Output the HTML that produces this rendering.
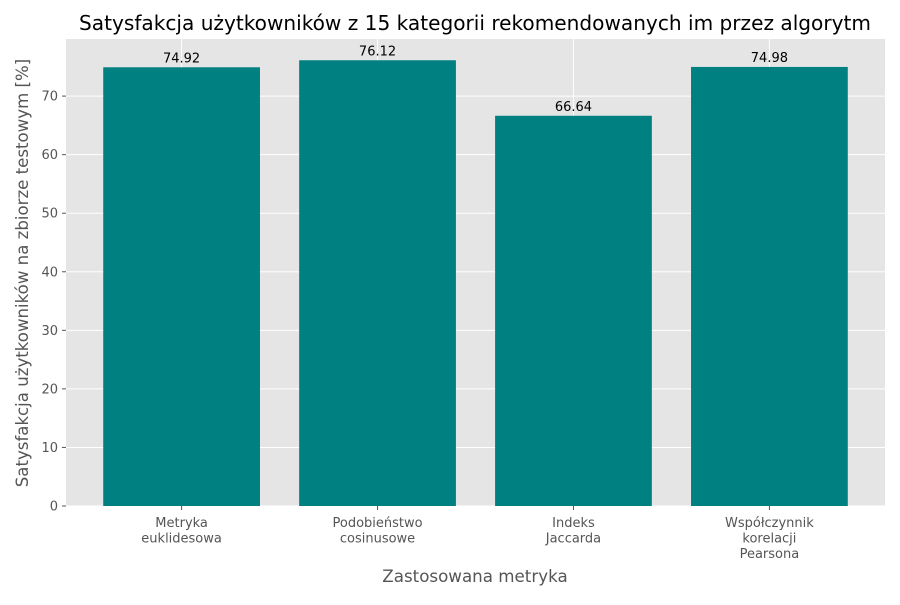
<!DOCTYPE html>
<html><head><meta charset="utf-8"><style>
body{margin:0;background:#fff;font-family:"Liberation Sans","DejaVu Sans",sans-serif;}
svg text{font-family:"DejaVu Sans","Liberation Sans",sans-serif;}
</style></head><body>
<svg id="chart" width="900" height="600" xmlns="http://www.w3.org/2000/svg">
<rect width="900" height="600" fill="#fff"/>
<text x="475" y="30" text-anchor="middle" font-size="20.1" fill="#000">Satysfakcja użytkowników z 15 kategorii rekomendowanych im przez algorytm</text>
<rect x="66" y="39" width="819" height="467" fill="#e5e5e5"/>
<g id="grid"></g><g id="bars"></g><g id="axes"></g>
<text x="475" y="582" text-anchor="middle" font-size="16.7" fill="#555">Zastosowana metryka</text>
<text transform="translate(28,273) rotate(-90)" text-anchor="middle" font-size="16.6" fill="#555">Satysfakcja użytkowników na zbiorze testowym [%]</text>
</svg>
<script>
const categories=[["Metryka","euklidesowa"],["Podobieństwo","cosinusowe"],["Indeks","Jaccarda"],["Współczynnik","korelacji","Pearsona"]];
const values=[74.92,76.12,66.64,74.98];
const yTicks=[0,10,20,30,40,50,60,70];
const L=66,R=885,T=39,B=506;
const yMax=79.75, xMin=-0.59, xMax=3.59;
const ys=v=>B-(v/yMax)*(B-T);
const xs=i=>L+(i-xMin)/(xMax-xMin)*(R-L);
const NS="http://www.w3.org/2000/svg";
function mk(tag,attrs,parent,txt){const e=document.createElementNS(NS,tag);for(const k in attrs)e.setAttribute(k,attrs[k]);if(txt!==undefined)e.textContent=txt;parent.appendChild(e);return e;}
const grid=document.getElementById('grid'),bars=document.getElementById('bars'),axes=document.getElementById('axes');
yTicks.forEach(t=>{
 const y=ys(t);
 const g=mk('line',{x1:L,x2:R,y1:y,y2:y,stroke:'#fff','stroke-width':1},grid);
 
 
 mk('line',{x1:L-4,x2:L,y1:y,y2:y,stroke:'#555'},axes);
 const lb=mk('text',{x:L-8,y:y+4.5,'text-anchor':'end','font-size':13,fill:'#555'},axes,String(t));
 
 
});
categories.forEach((c,i)=>{
 const x=xs(i);
 const g=mk('line',{x1:x,x2:x,y1:T,y2:B,stroke:'#fff','stroke-width':1},grid);
 
 
});
categories.forEach((c,i)=>{
 const x=xs(i),w=xs(0.4)-xs(-0.4),y=ys(values[i]);
 const r=mk('rect',{x:x-w/2,y:y,width:w,height:B-y,fill:'#008080'},bars);
 
 
 const v=mk('text',{x:x,y:y-5,'text-anchor':'middle','font-size':13,fill:'#000'},bars,values[i].toFixed(2));
 
 
 mk('line',{x1:x,x2:x,y1:B,y2:B+4,stroke:'#555'},axes);
 c.forEach((line,j)=>{
  const t=mk('text',{x:x,y:B+21+j*15.5,'text-anchor':'middle','font-size':13,fill:'#555'},axes,line);
  
  
 });
});
</script>
</body></html>
